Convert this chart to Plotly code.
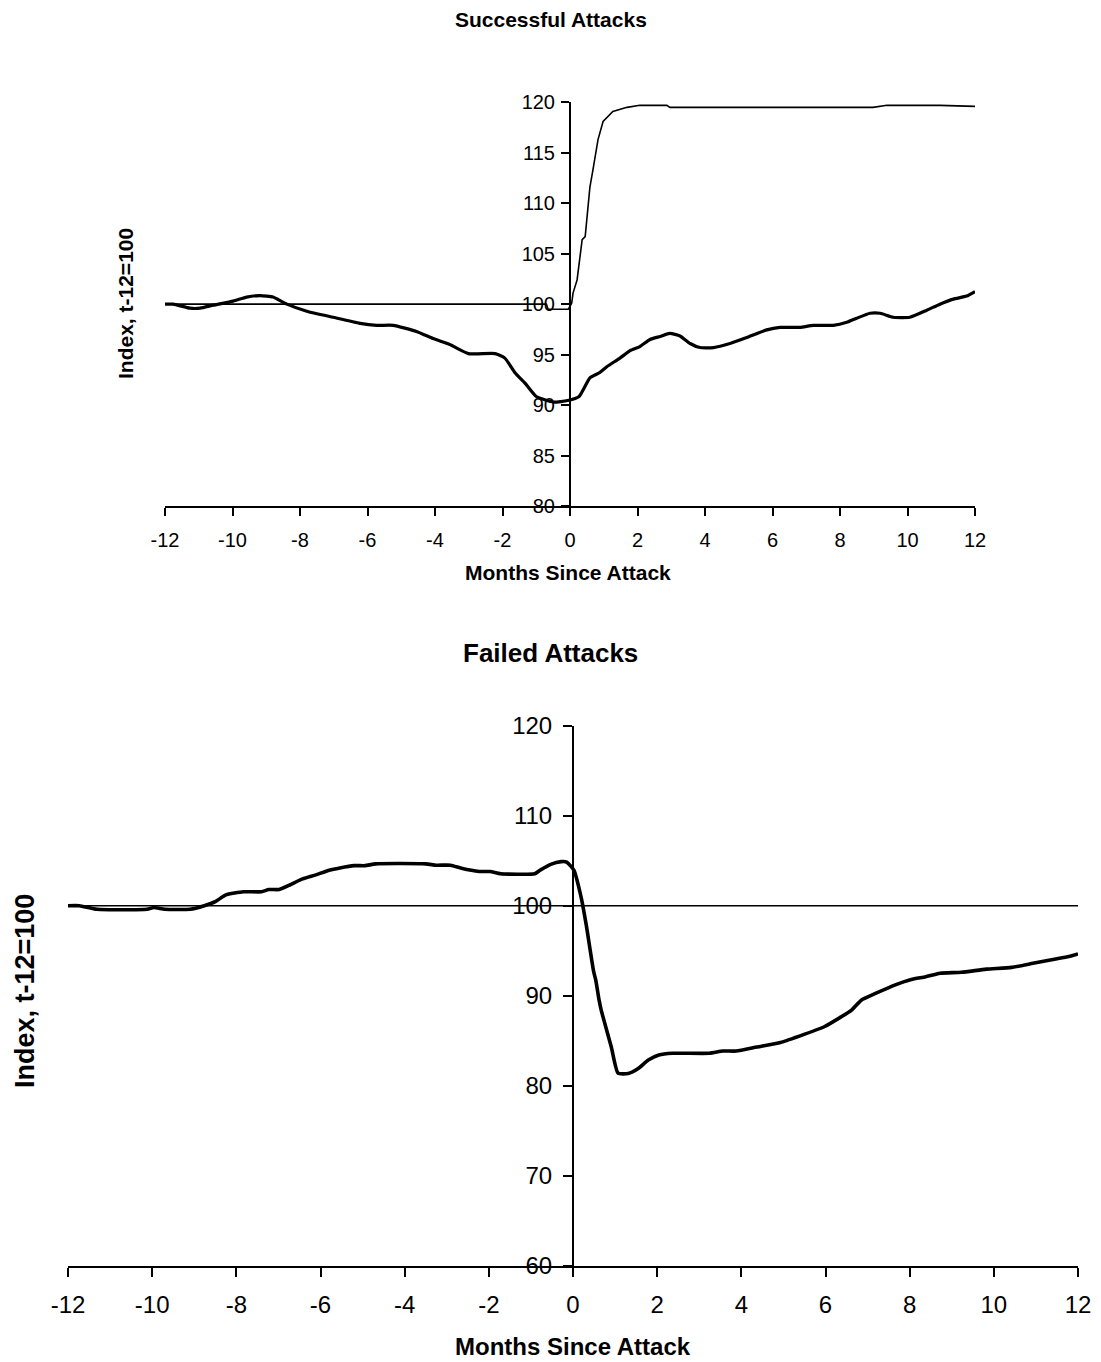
import plotly.graph_objects as go

# ---------------- Data ----------------
x_ticks = [-12, -10, -8, -6, -4, -2, 0, 2, 4, 6, 8, 10, 12]
x_tick_labels = ["-12", "-10", "-8", "-6", "-4", "-2", "0", "2", "4", "6", "8", "10", "12"]
top_y_ticks = [80, 85, 90, 95, 100, 105, 110, 115, 120]
bot_y_ticks = [60, 70, 80, 90, 100, 110, 120]

succ_main_x = [-12.0, -11.76, -11.26, -10.96, -10.57, -9.98, -9.58, -9.19, -8.99, -8.8, -8.39, -7.8,
               -7.02, -6.22, -5.73, -5.24, -4.55, -4.06, -3.56, -3.01, -2.22, -1.93, -1.63, -1.34,
               -1.0, -0.49, -0.07, 0.27, 0.59, 0.87, 1.09, 1.48, 1.78, 2.07, 2.37, 2.67, 2.96, 3.26,
               3.56, 3.85, 4.25, 4.74, 5.24, 5.83, 6.22, 6.81, 7.21, 7.8, 8.2, 8.49, 8.89, 9.19,
               9.58, 10.07, 10.57, 10.96, 11.36, 11.75, 12.0]
succ_main_y = [100.0, 100.0, 99.6, 99.6, 99.9, 100.3, 100.7, 100.85, 100.8, 100.7, 100.0, 99.3,
               98.7, 98.1, 97.9, 97.9, 97.3, 96.6, 96.0, 95.1, 95.1, 94.65, 93.2, 92.2,
               90.85, 90.3, 90.45, 90.85, 92.7, 93.2, 93.8, 94.65, 95.4, 95.8, 96.5, 96.8, 97.1, 96.85,
               96.1, 95.7, 95.7, 96.1, 96.7, 97.45, 97.7, 97.7, 97.9, 97.9, 98.2, 98.6, 99.1, 99.1,
               98.7, 98.7, 99.4, 100.0, 100.5, 100.8, 101.25]

succ_thin_x = [-12.0, -0.7, -0.65, -0.05, 0.05, 0.09, 0.21, 0.36, 0.45, 0.59, 0.68, 0.83, 0.98,
               1.27, 1.69, 2.07, 2.87, 2.96, 8.98, 9.39, 10.96, 12.0]
succ_thin_y = [100.0, 100.0, 99.5, 99.5, 100.1, 101.1, 102.4, 106.4, 106.7, 111.6, 113.3, 116.3, 118.1,
               119.1, 119.5, 119.7, 119.7, 119.5, 119.5, 119.7, 119.7, 119.6]

fail_main_x = [-12.0, -11.73, -11.31, -10.12, -9.96, -9.7, -9.1, -8.76, -8.5, -8.25, -7.83, -7.4,
               -7.23, -6.98, -6.73, -6.47, -6.13, -5.79, -5.54, -5.2, -4.94, -4.69, -3.5, -3.25,
               -2.91, -2.65, -2.23, -1.97, -1.72, -0.91, -0.78, -0.53, -0.28, -0.15, 0.02, 0.19,
               0.32, 0.49, 0.54, 0.62, 0.67, 0.91, 1.07, 1.31, 1.55, 1.79, 2.04, 2.36, 3.24, 3.56,
               3.88, 4.37, 4.93, 5.49, 5.97, 6.37, 6.62, 6.85, 7.19, 7.66, 8.04, 8.38, 8.72, 9.23,
               9.82, 10.42, 10.93, 11.44, 11.78, 12.0]
fail_main_y = [100.0, 100.0, 99.6, 99.6, 99.8, 99.6, 99.6, 100.0, 100.45, 101.2, 101.55, 101.55,
               101.8, 101.8, 102.3, 102.9, 103.4, 103.95, 104.2, 104.45, 104.45, 104.65, 104.65, 104.5,
               104.5, 104.15, 103.8, 103.8, 103.55, 103.55, 103.95, 104.6, 104.9, 104.85, 103.95, 101.0,
               97.7, 92.7, 91.75, 89.5, 88.4, 84.3, 81.4, 81.35, 81.9, 82.85, 83.4, 83.6, 83.6, 83.85,
               83.85, 84.3, 84.8, 85.7, 86.55, 87.65, 88.4, 89.5, 90.25, 91.2, 91.8, 92.1, 92.5, 92.6,
               92.95, 93.15, 93.6, 94.05, 94.35, 94.65]

fail_base_x = [-12, 12]
fail_base_y = [100, 100]

# ---------------- Layout geometry ----------------
# The page body has an 8px margin; the figure is sized so that it exactly fills the window.
OFF = 8
W, H = 1101 - OFF, 1362 - OFF

def fx(px):
    return (px - OFF) / W

def fy(py):
    return 1 - (py - OFF) / H

top_x = [fx(165), fx(975)]
top_y = [fy(506), fy(102.3)]
bot_x = [fx(68), fx(1078)]
bot_y = [fy(1265.7), fy(725.7)]

FONT = "Liberation Sans, Arial, sans-serif"

fig = go.Figure()

fig.add_trace(go.Scatter(x=succ_thin_x, y=succ_thin_y, mode="lines",
                         line=dict(color="black", width=1.6), xaxis="x", yaxis="y",
                         showlegend=False))
fig.add_trace(go.Scatter(x=succ_main_x, y=succ_main_y, mode="lines",
                         line=dict(color="black", width=3.2, shape="spline", smoothing=0.5),
                         xaxis="x", yaxis="y", showlegend=False))
fig.add_trace(go.Scatter(x=fail_base_x, y=fail_base_y, mode="lines",
                         line=dict(color="black", width=1.6), xaxis="x2", yaxis="y2",
                         showlegend=False))
fig.add_trace(go.Scatter(x=fail_main_x, y=fail_main_y, mode="lines",
                         line=dict(color="black", width=3.6, shape="spline", smoothing=0.5),
                         xaxis="x2", yaxis="y2", showlegend=False))

axis_common = dict(showgrid=False, zeroline=False, showline=True, linecolor="black",
                   ticks="outside", tickcolor="black", automargin=False)

fig.update_layout(
    template="none",
    width=W, height=H,
    margin=dict(l=0, r=0, t=0, b=0, pad=0),
    paper_bgcolor="white", plot_bgcolor="white",
    font=dict(family=FONT, color="black"),
    showlegend=False,
    xaxis=dict(domain=top_x, anchor="y", range=[-12, 12], tickmode="array",
               tickvals=x_ticks, ticktext=x_tick_labels, ticklabelstandoff=7,
               linewidth=2, tickwidth=2, ticklen=8, tickfont=dict(size=20),
               **axis_common),
    yaxis=dict(domain=top_y, anchor="free", position=(top_x[0] + top_x[1]) / 2,
               range=[80, 120], tickmode="array", tickvals=top_y_ticks,
               ticklabelstandoff=2,
               linewidth=2, tickwidth=2, ticklen=8,
               tickfont=dict(size=20), **axis_common),
    xaxis2=dict(domain=bot_x, anchor="y2", range=[-12, 12], tickmode="array",
                tickvals=x_ticks, ticktext=x_tick_labels, ticklabelstandoff=7,
                linewidth=2, tickwidth=2, ticklen=9, tickfont=dict(size=24),
                **axis_common),
    yaxis2=dict(domain=bot_y, anchor="free", position=(bot_x[0] + bot_x[1]) / 2,
                range=[60, 120], tickmode="array", tickvals=bot_y_ticks,
                ticklabelstandoff=6,
                linewidth=2, tickwidth=2, ticklen=9,
                tickfont=dict(size=24), **axis_common),
)

def ann(text, xpx, ypx, size, angle=0):
    fig.add_annotation(text=f"<b>{text}</b>", x=fx(xpx), y=fy(ypx), xref="paper",
                       yref="paper", showarrow=False, textangle=angle,
                       font=dict(size=size, family=FONT, color="black"),
                       xanchor="center", yanchor="middle")

ann("Successful Attacks", 551, 19, 21)
ann("Months Since Attack", 568, 572, 21)
ann("Index, t-12=100", 126, 304, 21, -90)
ann("Failed Attacks", 550, 653, 26)
ann("Months Since Attack", 573, 1346, 24)
ann("Index, t-12=100", 25, 991, 27, -90)

fig.write_html("out.html")
